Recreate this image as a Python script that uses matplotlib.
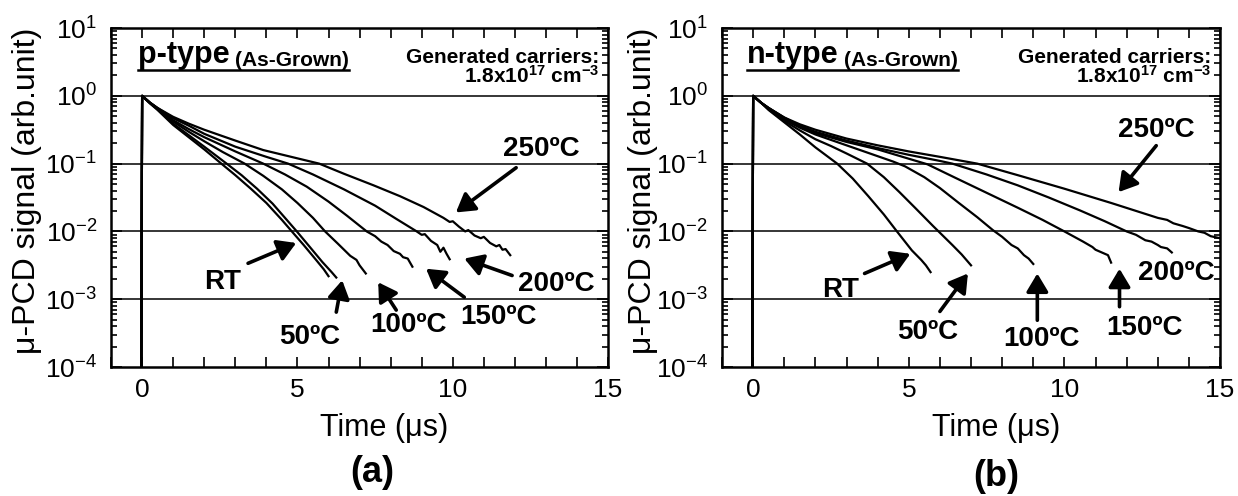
import numpy as np
import matplotlib
matplotlib.use("Agg")
import matplotlib.pyplot as plt
from matplotlib.ticker import LogLocator, MultipleLocator, NullFormatter, FixedLocator

plt.rcParams['font.family'] = ['Liberation Sans', 'DejaVu Sans']
plt.rcParams['mathtext.fontset'] = 'custom'
plt.rcParams['mathtext.rm'] = 'Liberation Sans'
plt.rcParams['mathtext.bf'] = 'Liberation Sans:bold'
plt.rcParams['mathtext.it'] = 'Liberation Sans:italic'

# decay curves: time (us) and log10 of the u-PCD signal
# (a) p-type
p_rt_t = [-0.03, 0, 0.25, 0.5, 1.0, 1.5, 2.0, 2.55, 3.0, 3.5, 4.0, 4.5, 4.82, 5.2, 5.6, 5.85, 6.0]
p_rt_log = [-4.5, 0, -0.11, -0.21, -0.43, -0.61, -0.79, -1.0, -1.17, -1.37, -1.58, -1.83, -2.0, -2.2, -2.42, -2.56, -2.66]
p_50_t = [-0.03, 0, 0.25, 0.5, 1.0, 1.5, 2.0, 2.72, 3.2, 3.7, 4.2, 4.6, 4.98, 5.4, 5.8, 6.1, 6.25]
p_50_log = [-4.5, 0, -0.11, -0.2, -0.41, -0.58, -0.75, -1.0, -1.17, -1.37, -1.59, -1.8, -2.0, -2.23, -2.45, -2.6, -2.68]
p_100_t = [-0.03, 0, 0.25, 0.5, 1.0, 1.5, 2.0, 2.6, 3.3, 3.9, 4.5, 5.0, 5.5, 5.89, 6.3, 6.7, 6.9, 7.0, 7.2]
p_100_log = [-4.5, 0, -0.1, -0.19, -0.38, -0.53, -0.67, -0.83, -1.0, -1.18, -1.38, -1.58, -1.8, -2.0, -2.18, -2.36, -2.42, -2.5, -2.62]
p_150_t = [-0.03, 0, 0.25, 0.5, 1.0, 1.5, 2.0, 3.0, 3.9, 4.6, 5.3, 6.0, 6.6, 7.23, 7.5, 7.7, 7.9, 8.1, 8.3, 8.4, 8.55, 8.7]
p_150_log = [-4.5, 0, -0.1, -0.19, -0.36, -0.49, -0.61, -0.82, -1.0, -1.16, -1.34, -1.56, -1.77, -2.0, -2.07, -2.15, -2.2, -2.29, -2.33, -2.38, -2.40, -2.52]
p_200_t = [-0.03, 0, 0.25, 0.5, 1.0, 1.5, 2.0, 3.0, 4.0, 4.7, 5.5, 6.5, 7.5, 8.2, 8.84, 9.0, 9.1, 9.3, 9.5, 9.6, 9.7, 9.8, 9.9]
p_200_log = [-4.5, 0, -0.1, -0.18, -0.33, -0.44, -0.56, -0.75, -0.9, -1.0, -1.16, -1.38, -1.62, -1.82, -2.0, -2.05, -2.04, -2.14, -2.2, -2.3, -2.24, -2.33, -2.41]
p_250_t = [-0.03, 0, 0.25, 0.5, 1.0, 1.5, 2.0, 3.0, 3.9, 4.8, 5.7, 6.5, 7.45, 8.3, 9.06, 9.7, 9.9, 10.0, 10.2, 10.4, 10.5,
           10.7, 10.9, 11.0, 11.2, 11.4, 11.5, 11.6, 11.7, 11.85]
p_250_log = [-4.5, 0, -0.1, -0.18, -0.31, -0.41, -0.5, -0.66, -0.8, -0.9, -1.0, -1.15, -1.32, -1.48, -1.64, -1.8, -1.86, -1.85,
             -1.93, -2.0, -1.98, -2.06, -2.1, -2.08, -2.17, -2.22, -2.2, -2.27, -2.26, -2.35]

# (b) n-type
n_rt_t = [-0.03, 0, 0.25, 0.5, 1.0, 1.5, 2.0, 2.7, 3.2, 3.7, 4.2, 4.62, 5.1, 5.4, 5.55, 5.7]
n_rt_log = [-4.5, 0, -0.1, -0.21, -0.39, -0.57, -0.76, -1.0, -1.22, -1.48, -1.75, -2.0, -2.28, -2.42, -2.5, -2.6]
n_50_t = [-0.03, 0, 0.25, 0.5, 1.0, 1.5, 2.0, 2.5, 3.0, 3.66, 4.2, 4.7, 5.2, 5.78, 6.4, 6.7, 7.0]
n_50_log = [-4.5, 0, -0.1, -0.2, -0.37, -0.51, -0.64, -0.74, -0.85, -1.0, -1.2, -1.42, -1.65, -1.92, -2.2, -2.34, -2.5]
n_100_t = [-0.03, 0, 0.25, 0.5, 1.0, 1.5, 2.0, 2.5, 3.0, 3.5, 4.0, 4.5, 4.88, 5.5, 6.0, 6.58, 7.2, 7.7, 8.0, 8.3, 8.5,
           8.7, 8.85, 9.0]
n_100_log = [-4.5, 0, -0.1, -0.19, -0.35, -0.47, -0.57, -0.65, -0.73, -0.81, -0.89, -0.97, -1.04, -1.2, -1.36, -1.57, -1.79,
             -1.98, -2.08, -2.2, -2.25, -2.35, -2.40, -2.48]
n_150_t = [-0.03, 0, 0.25, 0.5, 1.0, 1.5, 2.0, 3.0, 4.0, 4.8, 5.6, 6.5, 7.5, 8.5, 9.3, 10.0, 10.6, 10.9, 11.0, 11.2,
           11.3, 11.4, 11.5]
n_150_log = [-4.5, 0, -0.1, -0.18, -0.33, -0.45, -0.55, -0.68, -0.79, -0.9, -1.01, -1.21, -1.43, -1.65, -1.83, -2.0, -2.15,
             -2.23, -2.27, -2.31, -2.33, -2.35, -2.46]
n_200_t = [-0.03, 0, 0.25, 0.5, 1.0, 1.5, 2.0, 3.0, 4.0, 5.0, 6.0, 6.4, 7.5, 8.5, 9.5, 10.5, 11.3, 12.0, 12.3, 12.6,
           12.8, 13.0, 13.1, 13.3, 13.45]
n_200_log = [-4.5, 0, -0.1, -0.18, -0.32, -0.44, -0.53, -0.66, -0.77, -0.87, -0.96, -1.0, -1.16, -1.32, -1.5, -1.69, -1.85,
             -2.0, -2.05, -2.13, -2.15, -2.2, -2.23, -2.25, -2.31]
n_250_t = [-0.03, 0, 0.25, 0.5, 1.0, 1.5, 2.0, 3.0, 4.0, 5.0, 6.0, 7.2, 8.5, 10.0, 11.5, 13.0, 13.3, 13.5, 13.8, 14.0,
           14.3, 14.5, 14.7, 15.0]
n_250_log = [-4.5, 0, -0.1, -0.18, -0.32, -0.42, -0.5, -0.63, -0.73, -0.82, -0.9, -1.0, -1.17, -1.37, -1.58, -1.8, -1.83,
             -1.88, -1.92, -1.95, -2.0, -2.02, -2.07, -2.1]

temps = ['RT', '50ºC', '100ºC', '150ºC', '200ºC', '250ºC']

p_curves = [(p_rt_t, p_rt_log), (p_50_t, p_50_log), (p_100_t, p_100_log),
            (p_150_t, p_150_log), (p_200_t, p_200_log), (p_250_t, p_250_log)]
n_curves = [(n_rt_t, n_rt_log), (n_50_t, n_50_log), (n_100_t, n_100_log),
            (n_150_t, n_150_log), (n_200_t, n_200_log), (n_250_t, n_250_log)]

fig = plt.figure(figsize=(12.38, 4.96), dpi=100)
ax_a = fig.add_axes([0.0897, 0.26, 0.4015, 0.6835])
ax_b = fig.add_axes([0.5832, 0.26, 0.4023, 0.6835])


def style(ax):
    ax.set_yscale('log')
    ax.set_ylim(1e-4, 1e1)
    ax.set_xlim(-1, 15)
    ax.xaxis.set_major_locator(FixedLocator([0, 5, 10, 15]))
    ax.xaxis.set_minor_locator(MultipleLocator(1))
    ax.yaxis.set_major_locator(LogLocator(base=10, numticks=10))
    ax.yaxis.set_minor_locator(LogLocator(base=10, subs=np.arange(2, 10), numticks=10))
    ax.yaxis.set_minor_formatter(NullFormatter())
    ax.tick_params(which='both', direction='in', top=True, right=True, labelsize=19, width=1.2)
    ax.tick_params(which='major', length=8)
    ax.tick_params(axis='y', which='major', pad=10)
    ax.tick_params(axis='x', which='both', length=7, pad=8)
    ax.tick_params(axis='y', which='minor', length=4)
    for s in ax.spines.values():
        s.set_linewidth(1.8)
    for g in [1e0, 1e-1, 1e-2, 1e-3]:
        ax.axhline(g, color='k', lw=1.1, zorder=1)
    ax.set_xlabel('Time (μs)', fontsize=22)
    ax.xaxis.set_label_coords(0.55, -0.18)
    ax.xaxis.label.set_va('center')
    ax.set_ylabel('μ-PCD signal (arb.unit)', fontsize=23)
    ax.yaxis.label.set_va('center')


def arrow_label(ax, text, txy, tail=None, head=None):
    ax.text(txy[0], 10 ** txy[1], text, fontsize=20, fontweight='bold',
            ha='center', va='center')
    if tail is not None:
        ax.annotate('', xy=(head[0], 10 ** head[1]), xytext=(tail[0], 10 ** tail[1]),
                    arrowprops=dict(arrowstyle='-|>,head_length=0.55,head_width=0.33',
                                    lw=2.6, color='k', shrinkA=0, shrinkB=0,
                                    mutation_scale=20))


for ax, curves in [(ax_a, p_curves), (ax_b, n_curves)]:
    style(ax)
    for t, lg in curves:
        ax.plot(t, 10 ** np.array(lg), color='k', lw=1.6, zorder=3)

ax_a.yaxis.set_label_coords(-0.17, 0.52)
ax_b.yaxis.set_label_coords(-0.158, 0.52)

# labels with arrows, panel (a)
arrow_label(ax_a, temps[5], (12.85, -0.79), (12.04, -1.06), (10.1, -1.72))
arrow_label(ax_a, temps[0], (2.58, -2.75), (3.41, -2.47), (4.96, -2.17))
arrow_label(ax_a, temps[1], (5.41, -3.55), (6.25, -3.19), (6.44, -2.72))
arrow_label(ax_a, temps[2], (8.56, -3.38), (8.18, -3.16), (7.6, -2.75))
arrow_label(ax_a, temps[3], (11.46, -3.26), (10.37, -2.97), (9.14, -2.55))
arrow_label(ax_a, temps[4], (13.33, -2.77), (11.91, -2.65), (10.37, -2.4))

# labels with arrows, panel (b)
arrow_label(ax_b, temps[5], (12.95, -0.5), (12.95, -0.735), (11.74, -1.42))
arrow_label(ax_b, temps[0], (2.82, -2.87), (3.58, -2.62), (5.05, -2.33))
arrow_label(ax_b, temps[1], (5.62, -3.48), (6.0, -3.18), (6.9, -2.62))
arrow_label(ax_b, temps[2], (9.25, -3.58), (9.13, -3.31), (9.13, -2.62))
arrow_label(ax_b, temps[3], (12.57, -3.43), (11.77, -3.11), (11.77, -2.55))
arrow_label(ax_b, temps[4], (13.6, -2.62))

titles = []
for ax, kind, x0 in [(ax_a, 'p-type', -0.13), (ax_b, 'n-type', -0.2)]:
    t1 = ax.text(x0, 10 ** 0.485, kind, fontsize=22, fontweight='bold', va='baseline')
    t2 = ax.annotate('(As-Grown)', xy=(1, 0), xycoords=t1, xytext=(4, 0),
                     textcoords='offset points', fontsize=15, fontweight='bold',
                     va='bottom')
    titles.append((ax, t1, t2))
    ax.text(0.982, 10 ** 0.485, 'Generated carriers:', fontsize=15, fontweight='bold',
            ha='right', va='baseline', transform=ax.get_yaxis_transform())
    ax.text(0.982, 10 ** 0.19, r'1.8x10$^{\mathbf{17}}$ cm$^{\mathbf{-3}}$', fontsize=15,
            fontweight='bold', ha='right', va='baseline', transform=ax.get_yaxis_transform())

fig.text(372 / 1238, 1 - 473 / 496, '(a)', fontsize=26, fontweight='bold', ha='center', va='center')
fig.text(996 / 1238, 1 - 477 / 496, '(b)', fontsize=26, fontweight='bold', ha='center', va='center')

# underline the panel titles
fig.canvas.draw()
r = fig.canvas.get_renderer()
for ax, t1, t2 in titles:
    b1 = t1.get_window_extent(r)
    b2 = t2.get_window_extent(r)
    inv = ax.transAxes.inverted()
    (xa, ya), (xb, _) = inv.transform([(b1.x0, b1.y0), (b2.x1, b1.y0)])
    ax.plot([xa, xb], [ya, ya], color='k', lw=1.8, transform=ax.transAxes, clip_on=False)

fig.savefig('out.png', dpi=100)
